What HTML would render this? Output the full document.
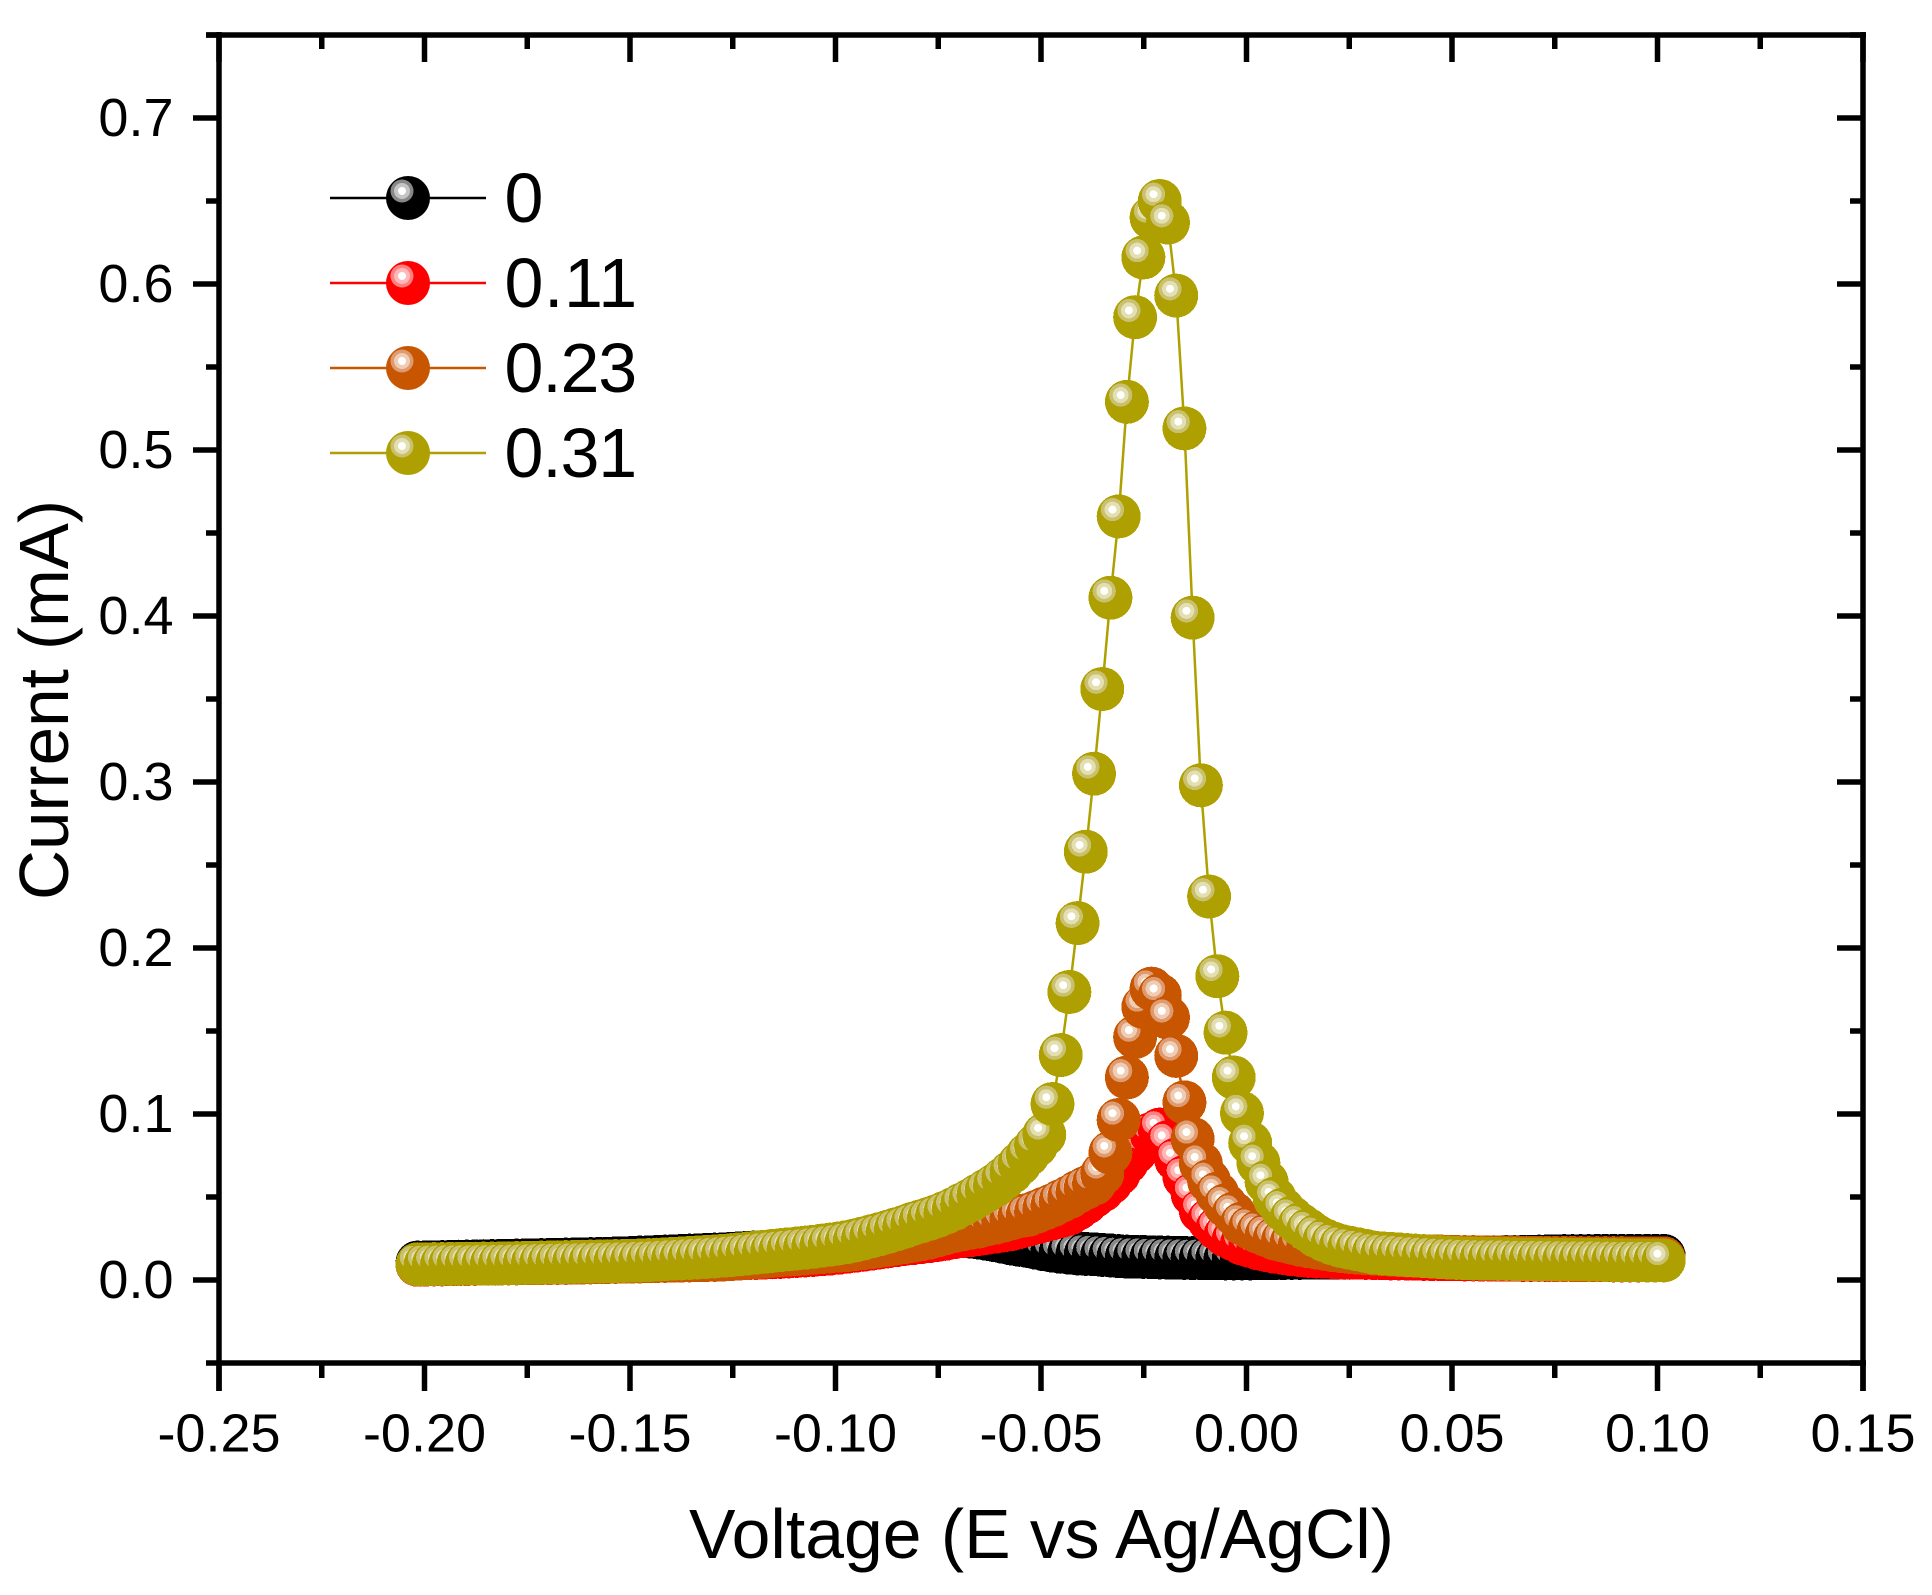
<!DOCTYPE html>
<html lang="en">
<head>
<meta charset="utf-8">
<title>Current vs Voltage</title>
<style>
html,body{margin:0;padding:0;background:#fff;}
svg{display:block;}
text{font-family:"Liberation Sans",Arial,sans-serif;fill:#000;}
</style>
</head>
<body>
<svg id="chart" xmlns="http://www.w3.org/2000/svg" width="1932" height="1595" viewBox="0 0 1932 1595">
  <rect x="0" y="0" width="1932" height="1595" fill="#fff"/>
  <g id="series-layer"></g>
  <g id="axes-layer"></g>
  <text x="689" y="1558" font-size="70" textLength="705" lengthAdjust="spacingAndGlyphs">Voltage (E vs Ag/AgCl)</text>
  <text transform="translate(68,900) rotate(-90)" x="0" y="0" font-size="70" textLength="400" lengthAdjust="spacingAndGlyphs">Current (mA)</text>
  <g>
    <g>
      <line x1="330" x2="486" y1="198" y2="198" stroke="#000" stroke-width="2.5"/>
      <circle cx="408" cy="198" r="22" fill="#000"/><circle cx="402" cy="191" r="11.5" fill="#888"/><circle cx="402" cy="191" r="8" fill="#c4c4c4"/><circle cx="402" cy="191" r="4" fill="#fff"/>
      <text x="504.5" y="222" font-size="70">0</text>
    </g>
    <g>
      <line x1="330" x2="486" y1="283" y2="283" stroke="#f00" stroke-width="2.5"/>
      <circle cx="408" cy="283" r="22" fill="#f00"/><circle cx="402" cy="276" r="11.5" fill="#ff8080"/><circle cx="402" cy="276" r="8" fill="#ffb8b8"/><circle cx="402" cy="276" r="4" fill="#fff"/>
      <text x="504.5" y="307" font-size="70" textLength="132.7" lengthAdjust="spacing">0.11</text>
    </g>
    <g>
      <line x1="330" x2="486" y1="368" y2="368" stroke="#c85500" stroke-width="2.5"/>
      <circle cx="408" cy="368" r="22" fill="#c85500"/><circle cx="402" cy="361" r="11.5" fill="#de9a70"/><circle cx="402" cy="361" r="8" fill="#f0ccb3"/><circle cx="402" cy="361" r="4" fill="#fff"/>
      <text x="504.5" y="392" font-size="70" textLength="132.7" lengthAdjust="spacing">0.23</text>
    </g>
    <g>
      <line x1="330" x2="486" y1="453" y2="453" stroke="#aea000" stroke-width="2.5"/>
      <circle cx="408" cy="453" r="22" fill="#aea000"/><circle cx="402" cy="446" r="11.5" fill="#c9c070"/><circle cx="402" cy="446" r="8" fill="#e4dfb0"/><circle cx="402" cy="446" r="4" fill="#fff"/>
      <text x="504.5" y="477" font-size="70" textLength="132.7" lengthAdjust="spacing">0.31</text>
    </g>
  </g>
</svg>
<script>
var xMajorTicks = [-0.25,-0.20,-0.15,-0.10,-0.05,0.00,0.05,0.10,0.15];
var xTickLabels = ["-0.25","-0.20","-0.15","-0.10","-0.05","0.00","0.05","0.10","0.15"];
var xMinorTicks = [-0.225,-0.175,-0.125,-0.075,-0.025,0.025,0.075,0.125];
var yMajorTicks = [0,0.1,0.2,0.3,0.4,0.5,0.6,0.7];
var yTickLabels = ["0.0","0.1","0.2","0.3","0.4","0.5","0.6","0.7"];
var yMinorTicks = [-0.05,0.05,0.15,0.25,0.35,0.45,0.55,0.65,0.75];

var voltage = [
-.2017,-.1997,-.1977,-.1957,-.1937,-.1917,-.1897,-.1877,-.1856,-.1836,
-.1816,-.1796,-.1776,-.1756,-.1736,-.1716,-.1696,-.1676,-.1656,-.1636,
-.1616,-.1596,-.1575,-.1555,-.1535,-.1515,-.1495,-.1475,-.1455,-.1435,
-.1415,-.1395,-.1375,-.1355,-.1335,-.1315,-.1294,-.1274,-.1254,-.1234,
-.1214,-.1194,-.1174,-.1154,-.1134,-.1114,-.1094,-.1074,-.1054,-.1034,
-.1014,-.0993,-.0973,-.0953,-.0933,-.0913,-.0893,-.0873,-.0853,-.0833,
-.0813,-.0793,-.0773,-.0753,-.0733,-.0712,-.0692,-.0672,-.0652,-.0632,
-.0612,-.0592,-.0572,-.0552,-.0532,-.0512,-.0492,-.0472,-.0452,-.0431,
-.0411,-.0391,-.0371,-.0351,-.0331,-.0311,-.0291,-.0271,-.0251,-.0231,
-.0211,-.0191,-.0171,-.0151,-.0131,-.0111,-.0091,-.0071,-.0051,-.0031,
-.0011,.0009,.0029,.0049,.0069,.0089,.0110,.0130,.0150,.0170,
.0190,.0210,.0230,.0250,.0270,.0290,.0310,.0331,.0351,.0371,
.0391,.0411,.0431,.0451,.0471,.0491,.0511,.0531,.0552,.0572,
.0592,.0612,.0632,.0652,.0672,.0692,.0712,.0732,.0752,.0773,
.0793,.0813,.0833,.0853,.0873,.0893,.0913,.0933,.0953,.0974,
.0995,.1015];

var current0 = [
.0105,.0106,.0107,.0108,.0109,.0110,.0111,.0112,.0113,.0114,
.0115,.0116,.0117,.0118,.0119,.0120,.0121,.0122,.0123,.0124,
.0125,.0126,.0127,.0128,.0130,.0131,.0133,.0135,.0137,.0139,
.0141,.0143,.0145,.0147,.0149,.0151,.0153,.0155,.0158,.0161,
.0164,.0167,.0170,.0174,.0178,.0182,.0186,.0190,.0194,.0198,
.0202,.0206,.0210,.0214,.0218,.0222,.0226,.0231,.0236,.0241,
.0246,.0250,.0254,.0258,.0261,.0263,.0265,.0262,.0256,.0248,
.0240,.0230,.0220,.0212,.0205,.0195,.0185,.0177,.0170,.0165,
.0160,.0157,.0155,.0151,.0148,.0144,.0141,.0140,.0139,.0137,
.0136,.0135,.0134,.0133,.0132,.0132,.0131,.0131,.0130,.0130,
.0130,.0130,.0131,.0131,.0132,.0132,.0133,.0133,.0134,.0134,
.0134,.0134,.0134,.0134,.0135,.0135,.0135,.0135,.0135,.0135,
.0135,.0135,.0135,.0136,.0136,.0136,.0136,.0136,.0137,.0137,
.0137,.0137,.0138,.0138,.0139,.0140,.0141,.0142,.0143,.0144,
.0144,.0144,.0144,.0145,.0145,.0145,.0145,.0145,.0145,.0145,
.0145,.0145];

var current011 = [
.0092,.0093,.0094,.0094,.0095,.0096,.0096,.0097,.0098,.0098,
.0099,.0100,.0100,.0101,.0102,.0102,.0103,.0104,.0104,.0105,
.0106,.0107,.0108,.0109,.0110,.0111,.0112,.0113,.0114,.0115,
.0116,.0117,.0118,.0119,.0120,.0122,.0123,.0125,.0127,.0129,
.0131,.0133,.0135,.0137,.0139,.0142,.0145,.0148,.0151,.0155,
.0159,.0164,.0170,.0176,.0182,.0189,.0196,.0203,.0210,.0217,
.0222,.0228,.0234,.0241,.0248,.0258,.0264,.0270,.0277,.0284,
.0291,.0299,.0307,.0320,.0333,.0346,.0359,.0372,.0385,.0400,
.0430,.0465,.0505,.0540,.0585,.0640,.0710,.0770,.0820,.0880,
.0906,.0830,.0725,.0620,.0516,.0415,.0360,.0310,.0270,.0245,
.0220,.0205,.0190,.0180,.0170,.0163,.0155,.0150,.0145,.0142,
.0140,.0138,.0136,.0135,.0134,.0133,.0132,.0131,.0130,.0130,
.0129,.0128,.0127,.0126,.0126,.0125,.0125,.0124,.0124,.0123,
.0123,.0122,.0122,.0122,.0121,.0121,.0121,.0120,.0120,.0120,
.0120,.0119,.0119,.0119,.0119,.0118,.0118,.0118,.0118,.0118,
.0118,.0118];

var current023 = [
.0094,.0095,.0095,.0096,.0096,.0097,.0097,.0098,.0098,.0099,
.0099,.0100,.0100,.0101,.0101,.0102,.0102,.0103,.0103,.0104,
.0105,.0106,.0107,.0108,.0109,.0110,.0111,.0112,.0113,.0114,
.0115,.0116,.0117,.0118,.0119,.0120,.0121,.0123,.0126,.0129,
.0132,.0136,.0140,.0145,.0150,.0153,.0156,.0160,.0164,.0168,
.0172,.0176,.0180,.0186,.0192,.0198,.0205,.0212,.0220,.0228,
.0236,.0245,.0255,.0268,.0282,.0295,.0305,.0315,.0322,.0335,
.0345,.0358,.0372,.0385,.0392,.0410,.0430,.0450,.0475,.0500,
.0530,.0555,.0580,.0640,.0767,.0964,.1220,.1464,.1645,.1755,
.1715,.1580,.1350,.1070,.0850,.0700,.0596,.0520,.0450,.0400,
.0340,.0315,.0290,.0270,.0250,.0238,.0225,.0213,.0204,.0196,
.0188,.0180,.0174,.0169,.0165,.0161,.0158,.0155,.0152,.0150,
.0148,.0146,.0144,.0143,.0142,.0140,.0139,.0138,.0138,.0137,
.0136,.0136,.0135,.0135,.0134,.0134,.0134,.0133,.0133,.0133,
.0133,.0132,.0132,.0132,.0132,.0132,.0132,.0131,.0131,.0131,
.0131,.0131];

var current031 = [
.0095,.0095,.0096,.0096,.0097,.0097,.0098,.0098,.0099,.0099,
.0100,.0101,.0102,.0103,.0104,.0105,.0106,.0107,.0108,.0109,
.0110,.0111,.0112,.0113,.0114,.0115,.0116,.0118,.0120,.0122,
.0125,.0128,.0130,.0133,.0136,.0139,.0142,.0146,.0150,.0155,
.0160,.0165,.0170,.0175,.0180,.0185,.0190,.0195,.0200,.0207,
.0213,.0220,.0228,.0238,.0250,.0263,.0276,.0290,.0305,.0320,
.0338,.0353,.0368,.0385,.0405,.0428,.0455,.0480,.0510,.0540,
.0570,.0608,.0650,.0700,.0755,.0810,.0875,.1060,.1355,.1735,
.2150,.2580,.3050,.3560,.4110,.4600,.5290,.5800,.6160,.6400,
.6500,.6370,.5930,.5130,.3990,.2980,.2310,.1830,.1490,.1220,
.1005,.0825,.0705,.0590,.0490,.0425,.0375,.0335,.0300,.0265,
.0240,.0220,.0205,.0195,.0185,.0175,.0165,.0160,.0157,.0154,
.0150,.0147,.0144,.0141,.0138,.0135,.0133,.0131,.0130,.0129,
.0128,.0127,.0127,.0126,.0125,.0125,.0124,.0124,.0123,.0123,
.0122,.0122,.0121,.0121,.0120,.0120,.0119,.0119,.0119,.0118,
.0118,.0118];

var seriesNames = ["0","0.11","0.23","0.31"];
var seriesValues = [current0,current011,current023,current031];
var seriesColors = ["#000000","#ff0000","#c85500","#aea000"];
var ringOuterColors = ["#888888","#ff8080","#de9a70","#c9c070"];
var ringInnerColors = ["#c4c4c4","#ffb8b8","#f0ccb3","#e4dfb0"];

var NS = "http://www.w3.org/2000/svg";
function xAxis(v){ return 219 + (v + 0.25) * 4110; }
function yAxis(v){ return 1280 - v * 1660; }
function make(tag, attrs, parent){
  var el = document.createElementNS(NS, tag);
  for (var k in attrs) el.setAttribute(k, attrs[k]);
  parent.appendChild(el);
  return el;
}

var axes = document.getElementById("axes-layer");
var frameTop = yAxis(0.75), frameBottom = yAxis(-0.05);
var frameLeft = xAxis(-0.25), frameRight = xAxis(0.15);
var spines = [
  ["bottom-axis-line", frameLeft, frameBottom, frameRight + 3, frameBottom],
  ["top-axis-line", frameLeft - 13, frameTop, frameRight + 3, frameTop],
  ["left-axis-line", frameLeft, frameTop - 3, frameLeft, frameBottom + 28],
  ["right-axis-line", frameRight, frameTop - 3, frameRight, frameBottom + 28]
];
spines.forEach(function(s){
  var line = make("line", {x1:s[1], y1:s[2], x2:s[3], y2:s[4], stroke:"#000", "stroke-width":5.5}, axes);
  
  
});

function addTick(name, x1, y1, x2, y2){
  var tick = make("line", {x1:x1, y1:y1, x2:x2, y2:y2, stroke:"#000", "stroke-width":5.5}, axes);
  
  
}
xMajorTicks.forEach(function(v, i){
  var x = xAxis(v);
  addTick("x-major-tick", x, frameBottom, x, frameBottom + 28);
  addTick("x-major-tick-top", x, frameTop, x, frameTop + 27);
  var label = make("text", {x:x, y:1451.5, "font-size":54, "text-anchor":"middle"}, axes);
  label.textContent = xTickLabels[i];
  
  
});
xMinorTicks.forEach(function(v){
  var x = xAxis(v);
  addTick("x-minor-tick", x, frameBottom, x, frameBottom + 15);
  addTick("x-minor-tick-top", x, frameTop, x, frameTop + 14);
});
yMajorTicks.forEach(function(v, i){
  var y = yAxis(v);
  addTick("y-major-tick", frameLeft - 26, y, frameLeft, y);
  addTick("y-major-tick-right", frameRight - 26, y, frameRight, y);
  var label = make("text", {x:173.5, y:y + 18, "font-size":54, "text-anchor":"end"}, axes);
  label.textContent = yTickLabels[i];
  
  
});
yMinorTicks.forEach(function(v){
  var y = yAxis(v);
  addTick("y-minor-tick", frameLeft - 13, y, frameLeft, y);
  addTick("y-minor-tick-right", frameRight - 13, y, frameRight, y);
});

var layer = document.getElementById("series-layer");
seriesValues.forEach(function(values, s){
  var group = make("g", {}, layer);
  
  
  var pts = values.map(function(v, i){ return xAxis(voltage[i]).toFixed(2) + "," + yAxis(v).toFixed(2); }).join(" ");
  var path = make("polyline", {points:pts, fill:"none", stroke:seriesColors[s], "stroke-width":2.5}, group);
  
  
  values.forEach(function(v, i){
    var cx = xAxis(voltage[i]), cy = yAxis(v);
    var marker = make("g", {"shape-rendering":"crispEdges"}, group);
    
    
    make("circle", {cx:cx, cy:cy, r:22, fill:seriesColors[s]}, marker);
    make("circle", {cx:cx - 6.2, cy:cy - 6.8, r:11.6, fill:ringOuterColors[s]}, marker);
    make("circle", {cx:cx - 6.2, cy:cy - 6.8, r:8, fill:ringInnerColors[s]}, marker);
    make("circle", {cx:cx - 6.2, cy:cy - 6.8, r:4, fill:"#fff"}, marker);
  });
});
</script>
</body>
</html>
